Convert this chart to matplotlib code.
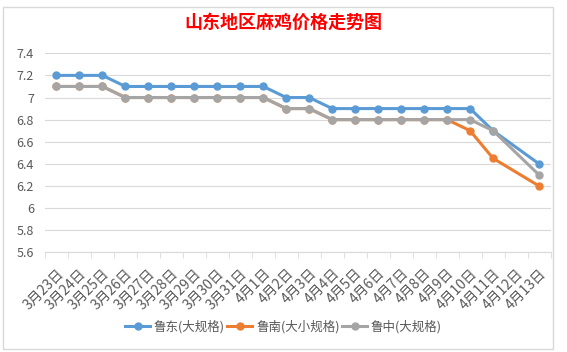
import matplotlib
matplotlib.use("Agg")
import matplotlib.pyplot as plt
from matplotlib.patches import Rectangle
import numpy as np

plt.rcParams['font.family'] = ['Noto Sans CJK SC', 'DejaVu Sans']

dates = ['3月23日', '3月24日', '3月25日', '3月26日', '3月27日', '3月28日',
         '3月29日', '3月30日', '3月31日', '4月1日', '4月2日', '4月3日',
         '4月4日', '4月5日', '4月6日', '4月7日', '4月8日', '4月9日',
         '4月10日', '4月11日', '4月12日', '4月13日']

# None = no price that day (line joins over it)
ludong = [7.2, 7.2, 7.2, 7.1, 7.1, 7.1, 7.1, 7.1, 7.1, 7.1, 7.0, 7.0,
          6.9, 6.9, 6.9, 6.9, 6.9, 6.9, 6.9, 6.7, None, 6.4]
lunan = [7.1, 7.1, 7.1, 7.0, 7.0, 7.0, 7.0, 7.0, 7.0, 7.0, 6.9, 6.9,
         6.8, 6.8, 6.8, 6.8, 6.8, 6.8, 6.7, 6.45, None, 6.2]
luzhong = [7.1, 7.1, 7.1, 7.0, 7.0, 7.0, 7.0, 7.0, 7.0, 7.0, 6.9, 6.9,
           6.8, 6.8, 6.8, 6.8, 6.8, 6.8, 6.8, 6.7, None, 6.3]

series = [('鲁东(大规格)', ludong, '#5B9BD5'),
          ('鲁南(大小规格)', lunan, '#ED7D31'),
          ('鲁中(大规格)', luzhong, '#A5A5A5')]

fig = plt.figure(figsize=(5.67, 3.52), dpi=100)
ax = fig.add_axes([45/567, 1 - 252.3/352, (550.5-45)/567, (252.3-53.3)/352])

for name, vals, col in series:
    xs = [i for i, v in enumerate(vals) if v is not None]
    ys = [v for v in vals if v is not None]
    ax.plot(xs, ys, '-o', color=col, lw=2.2, ms=5, label=name)

ax.set_xlim(-0.5, len(dates) - 0.5)
ax.set_ylim(5.6, 7.4)
yt = np.arange(5.6, 7.41, 0.2)
ax.set_yticks(yt)
ax.set_yticklabels(['{:g}'.format(round(v, 1)) for v in yt], fontsize=9, color='#595959')
ax.yaxis.grid(True, color='#D9D9D9', lw=0.8)
ax.set_axisbelow(True)
ax.tick_params(axis='y', length=0, pad=8)

ax.set_xticks(range(len(dates)))
ax.set_xticklabels(dates, rotation=45, ha='right', rotation_mode='anchor',
                   fontsize=10, color='#595959')
ax.set_xticks(np.arange(-0.5, len(dates), 1), minor=True)
ax.tick_params(axis='x', which='major', length=0, pad=10)
ax.tick_params(axis='x', which='minor', length=4, color='#D9D9D9')

for s in ['top', 'right', 'left']:
    ax.spines[s].set_visible(False)
ax.spines['bottom'].set_color('#D9D9D9')

fig.text(0.5, 1 - 22/352, '山东地区麻鸡价格走势图', ha='center', va='center',
         fontsize=13, fontweight='bold', color='#FF0000')

fig.legend(loc='center', bbox_to_anchor=(0.5, 1 - 327/352), ncol=3,
           frameon=False, fontsize=9, handlelength=2.0, columnspacing=0.2,
           handletextpad=0.3, labelcolor='#595959')

fig.patches.append(Rectangle((3/567, 3/352), 550/567, 342/352, transform=fig.transFigure,
                             fill=False, edgecolor='#D9D9D9', lw=1))

fig.savefig('out.png', dpi=100)
